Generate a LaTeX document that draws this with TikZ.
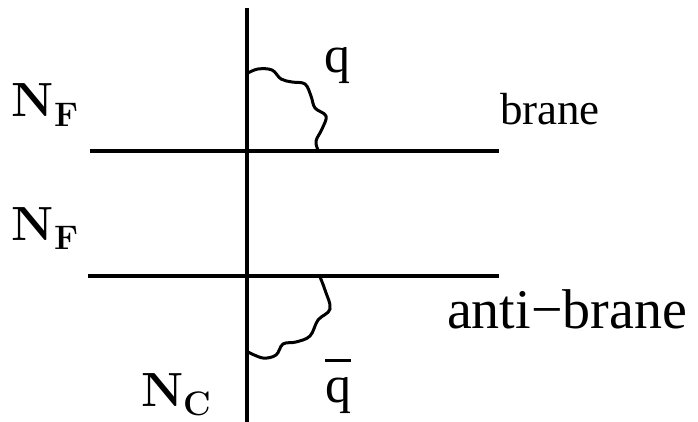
\documentclass[tikz,border=0pt]{standalone}
\usepackage{fontspec}
\newfontfamily\timesfont{Liberation Serif}
\newcommand{\bigN}[1]{{\fontsize{48}{58}\selectfont\bfseries N\raisebox{-0.2em}{\fontsize{34}{40}\selectfont #1}}}
\begin{document}
\begin{tikzpicture}[x=1pt,y=-1pt,
  brane/.style={line width=4pt},
  gluon/.style={line width=3pt,line join=round,line cap=round},
  lbl/.style={anchor=base west,inner sep=0pt,outer sep=0pt}]
\useasboundingbox (0,0) rectangle (698,422);
% lines
\coordinate (vt) at (247,8);
\coordinate (vb) at (247,422);
\coordinate (b1l) at (90,151);
\coordinate (b1r) at (499,151);
\coordinate (b2l) at (88,276);
\coordinate (b2r) at (499,276);
\draw[brane] (vt) -- (vb);
\draw[brane] (b1l) -- (b1r);
\draw[brane] (b2l) -- (b2r);
% strings
\draw[gluon] plot[smooth,tension=0.6] coordinates {(248,73) (258,69) (272,70) (281,79) (292,82) (305,84) (311,96) (315,108) (326,116) (322,129) (316,141) (318,150)};
\draw[gluon] plot[smooth,tension=0.6] coordinates {(320,277) (325,290) (330,309) (318,320) (310,336) (296,342) (283,344) (276,355) (263,358) (248,352)};
% labels
\node[lbl] (q) at (324,73) {\fontsize{52}{60}\timesfont q};
\node[lbl] (qb) at (325,402) {\fontsize{52}{60}\timesfont\rlap{\rule[0.76em]{0.5em}{0.06em}}q};
\node[lbl] (br) at (500,125) {\fontsize{45}{52}\timesfont brane};
\node[lbl] (abr) at (447,328) {\fontsize{56}{66}\timesfont anti−brane};
\node[lbl] (nf1) at (12,117) {\bigN{F}};
\node[lbl] (nf2) at (12,240) {\bigN{F}};
\node[lbl] (nc) at (141,406) {\bigN{C}};
\end{tikzpicture}
\end{document}
